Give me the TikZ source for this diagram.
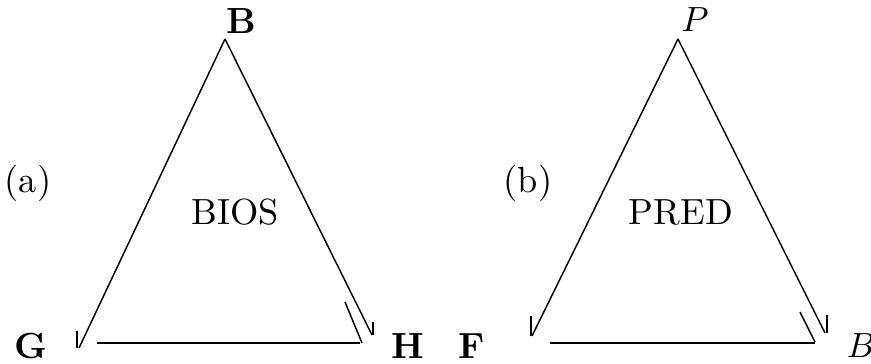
\documentclass[tikz,border=0pt]{standalone}
\tikzset{
  edge/.style={line width=0.42pt},
  base/.style={line width=0.6pt},
  tick/.style={line width=0.7pt},
  lab/.style={inner sep=0pt,font=\fontsize{10.4}{12}\selectfont}
}
\begin{document}
\begin{tikzpicture}[x=0.286pt,y=-0.286pt]
\useasboundingbox (0,0) rectangle (871,364);
% ---- (a) ----
\coordinate (aB) at (225,39);
\coordinate (aG) at (79,348);
\coordinate (aH) at (372,335);
\coordinate (aL) at (97,343);
\coordinate (aR) at (360,343);
\coordinate (aX1) at (345,302);
\coordinate (aX2) at (362,343);
\coordinate (aT1) at (77,331);
\coordinate (aT2) at (77,348);
\coordinate (aU1) at (373,322);
\coordinate (aU2) at (373,335);
\draw[edge] (aB) -- (aG);
\draw[edge] (aB) -- (aH);
\draw[edge] (aX1) -- (aX2);
\draw[tick] (aT1) -- (aT2);
\draw[tick] (aU1) -- (aU2);
\draw[base] (aL) -- (aR);
\node[lab] (nB) at (241,21) {\textbf{B}};
\node[lab] (nG) at (31,346) {\textbf{G}};
\node[lab] (nH) at (408,346) {\textbf{H}};
\node[lab] (na) at (28,183) {(a)};
\node[lab] (nBIOS) at (235,212) {BIOS};
% ---- (b) ----
\coordinate (bP) at (678,39);
\coordinate (bF) at (532,336);
\coordinate (bB) at (825,333);
\coordinate (bL) at (550,343);
\coordinate (bR) at (815,343);
\coordinate (bX1) at (800,312);
\coordinate (bX2) at (815,342);
\coordinate (bT1) at (531,316);
\coordinate (bT2) at (531,336);
\coordinate (bU1) at (827,315);
\coordinate (bU2) at (827,333);
\draw[edge] (bP) -- (bF);
\draw[edge] (bP) -- (bB);
\draw[edge] (bX1) -- (bX2);
\draw[tick] (bT1) -- (bT2);
\draw[tick] (bU1) -- (bU2);
\draw[base] (bL) -- (bR);
\node[lab] (nP) at (695,20) {$P$};
\node[lab] (nF) at (472,346) {\textbf{F}};
\node[lab] (nBb) at (861,346) {$B$};
\node[lab] (nb) at (528,183) {(b)};
\node[lab] (nPRED) at (681,212) {PRED};
\end{tikzpicture}
\end{document}
